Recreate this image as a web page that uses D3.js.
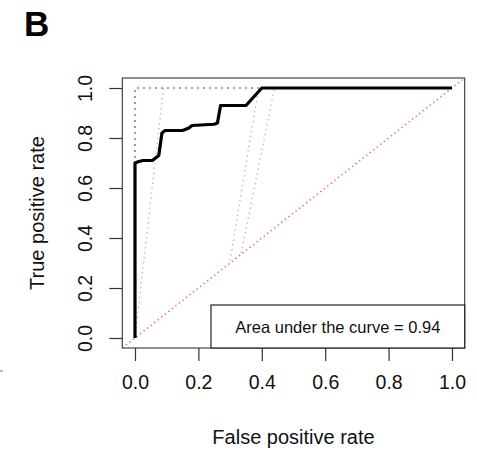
<!DOCTYPE html>
<html>
<head>
<meta charset="utf-8">
<script src="https://cdn.jsdelivr.net/npm/d3@7"></script>
<style>
  body { margin: 0; background: #fff; }
  svg { display: block; font-family: "Liberation Sans", Arial, sans-serif; }
</style>
</head>
<body>
<svg id="chart"></svg>
<script>
// ROC curve (black, thick)
const rocFpr = [0, 0, 0.01, 0.025, 0.055, 0.065, 0.075, 0.085, 0.095, 0.15, 0.16, 0.17, 0.18, 0.25, 0.26, 0.27, 0.35, 0.40, 1.0];
const rocTpr = [0, 0.70, 0.705, 0.71, 0.71, 0.72, 0.73, 0.82, 0.83, 0.83, 0.835, 0.84, 0.85, 0.855, 0.86, 0.93, 0.93, 1.0, 1.0];

// blue dotted reference (perfect classifier corner)
const idealFpr = [0, 0, 0.40];
const idealTpr = [0, 1.0, 1.0];

// grey dotted lines
const greyLines = [
  { fpr: [0, 0.09], tpr: [0, 1.0] },
  { fpr: [0.30, 0.39], tpr: [0.31, 1.0] },
  { fpr: [0.335, 0.44], tpr: [0.34, 1.0] }
];

const xTicks = [0, 0.2, 0.4, 0.6, 0.8, 1.0];
const yTicks = [0, 0.2, 0.4, 0.6, 0.8, 1.0];
const aucLabel = "Area under the curve = 0.94";

const W = 477, H = 451;
const svg = d3.select("#chart").attr("width", W).attr("height", H);

const x = d3.scaleLinear().domain([0, 1]).range([135, 452]);
const y = d3.scaleLinear().domain([0, 1]).range([338, 88]);

// plot box, R style 4% extension
const bx0 = x(-0.04), bx1 = x(1.04), by0 = y(-0.04), by1 = y(1.04);

const pts = (fs, ts) => fs.map((f, i) => [f, ts[i]]);
const line = d3.line().x(d => x(d[0])).y(d => y(d[1]));

// diagonal abline across whole box
svg.append("path")
  .attr("d", line([[-0.04, -0.04], [1.04, 1.04]]))
  .attr("fill", "none")
  .attr("stroke", "#e2706b")
  .attr("stroke-width", 1.4)
  .attr("stroke-dasharray", "1.5,3");

greyLines.forEach(g => {
  svg.append("path")
    .attr("d", line(pts(g.fpr, g.tpr)))
    .attr("fill", "none")
    .attr("stroke", "#bdbdc4")
    .attr("stroke-width", 1.4)
    .attr("stroke-dasharray", "1.5,3.5");
});

svg.append("path")
  .attr("d", line(pts(idealFpr, idealTpr)))
  .attr("fill", "none")
  .attr("stroke", "#5b8ec9")
  .attr("stroke-width", 1.6)
  .attr("stroke-dasharray", "2,4");

svg.append("path")
  .attr("d", line(pts(rocFpr, rocTpr)))
  .attr("fill", "none")
  .attr("stroke", "#000")
  .attr("stroke-width", 3.2)
  .attr("stroke-linejoin", "round");

// box
svg.append("rect")
  .attr("x", bx0).attr("y", by1)
  .attr("width", bx1 - bx0).attr("height", by0 - by1)
  .attr("fill", "none")
  .attr("stroke", "#444")
  .attr("stroke-width", 1.2);

// axes
const xAxis = d3.axisBottom(x).tickValues(xTicks).tickSize(13).tickPadding(12)
  .tickFormat(d3.format(".1f"));
const gx = svg.append("g").attr("transform", `translate(0,${by0})`).call(xAxis);
gx.select(".domain").remove();
gx.selectAll(".tick line").attr("stroke", "#333").attr("stroke-width", 1.2);
gx.selectAll(".tick text")
  .attr("y", 27)
  .attr("dy", "0.71em")
  .style("font-size", "19.5px")
  .style("fill", "#111");

const yAxis = d3.axisLeft(y).tickValues(yTicks).tickSize(13)
  .tickFormat(d3.format(".1f"));
const gy = svg.append("g").attr("transform", `translate(${bx0},0)`).call(yAxis);
gy.select(".domain").remove();
gy.selectAll(".tick line").attr("stroke", "#333").attr("stroke-width", 1.2);
gy.selectAll(".tick text")
  .attr("x", null).attr("dy", null)
  .attr("transform", `translate(${85 - bx0},0) rotate(-90)`)
  .attr("text-anchor", "middle")
  .attr("dominant-baseline", "central")
  .style("font-size", "19.5px")
  .style("fill", "#111");

// axis titles
svg.append("text")
  .attr("x", (x(0) + x(1)) / 2)
  .attr("y", 437)
  .attr("text-anchor", "middle")
  .attr("dominant-baseline", "central")
  .style("font-size", "20px")
  .style("fill", "#111")
  .text("False positive rate");

svg.append("text")
  .attr("transform", `translate(37,${(y(0) + y(1)) / 2}) rotate(-90)`)
  .attr("text-anchor", "middle")
  .attr("dominant-baseline", "central")
  .style("font-size", "20px")
  .style("fill", "#111")
  .text("True positive rate");

// legend box bottom right
const lg = svg.append("g");
lg.append("rect")
  .attr("x", 211).attr("y", 305)
  .attr("width", bx1 - 211).attr("height", by0 - 305)
  .attr("fill", "#fff")
  .attr("stroke", "#222")
  .attr("stroke-width", 1.2);
lg.append("text")
  .attr("x", (211 + bx1) / 2)
  .attr("y", 327)
  .attr("text-anchor", "middle")
  .attr("dominant-baseline", "central")
  .style("font-size", "16.5px")
  .style("fill", "#111")
  .text(aucLabel);

// panel letter
svg.append("text")
  .attr("x", 24).attr("y", 36)
  .style("font-size", "35px")
  .style("font-weight", "bold")
  .style("fill", "#000")
  .text("B");

// small stray mark on the left edge
svg.append("line")
  .attr("x1", 0).attr("x2", 3).attr("y1", 371).attr("y2", 371)
  .attr("stroke", "#777").attr("stroke-width", 1);
</script>
</body>
</html>
